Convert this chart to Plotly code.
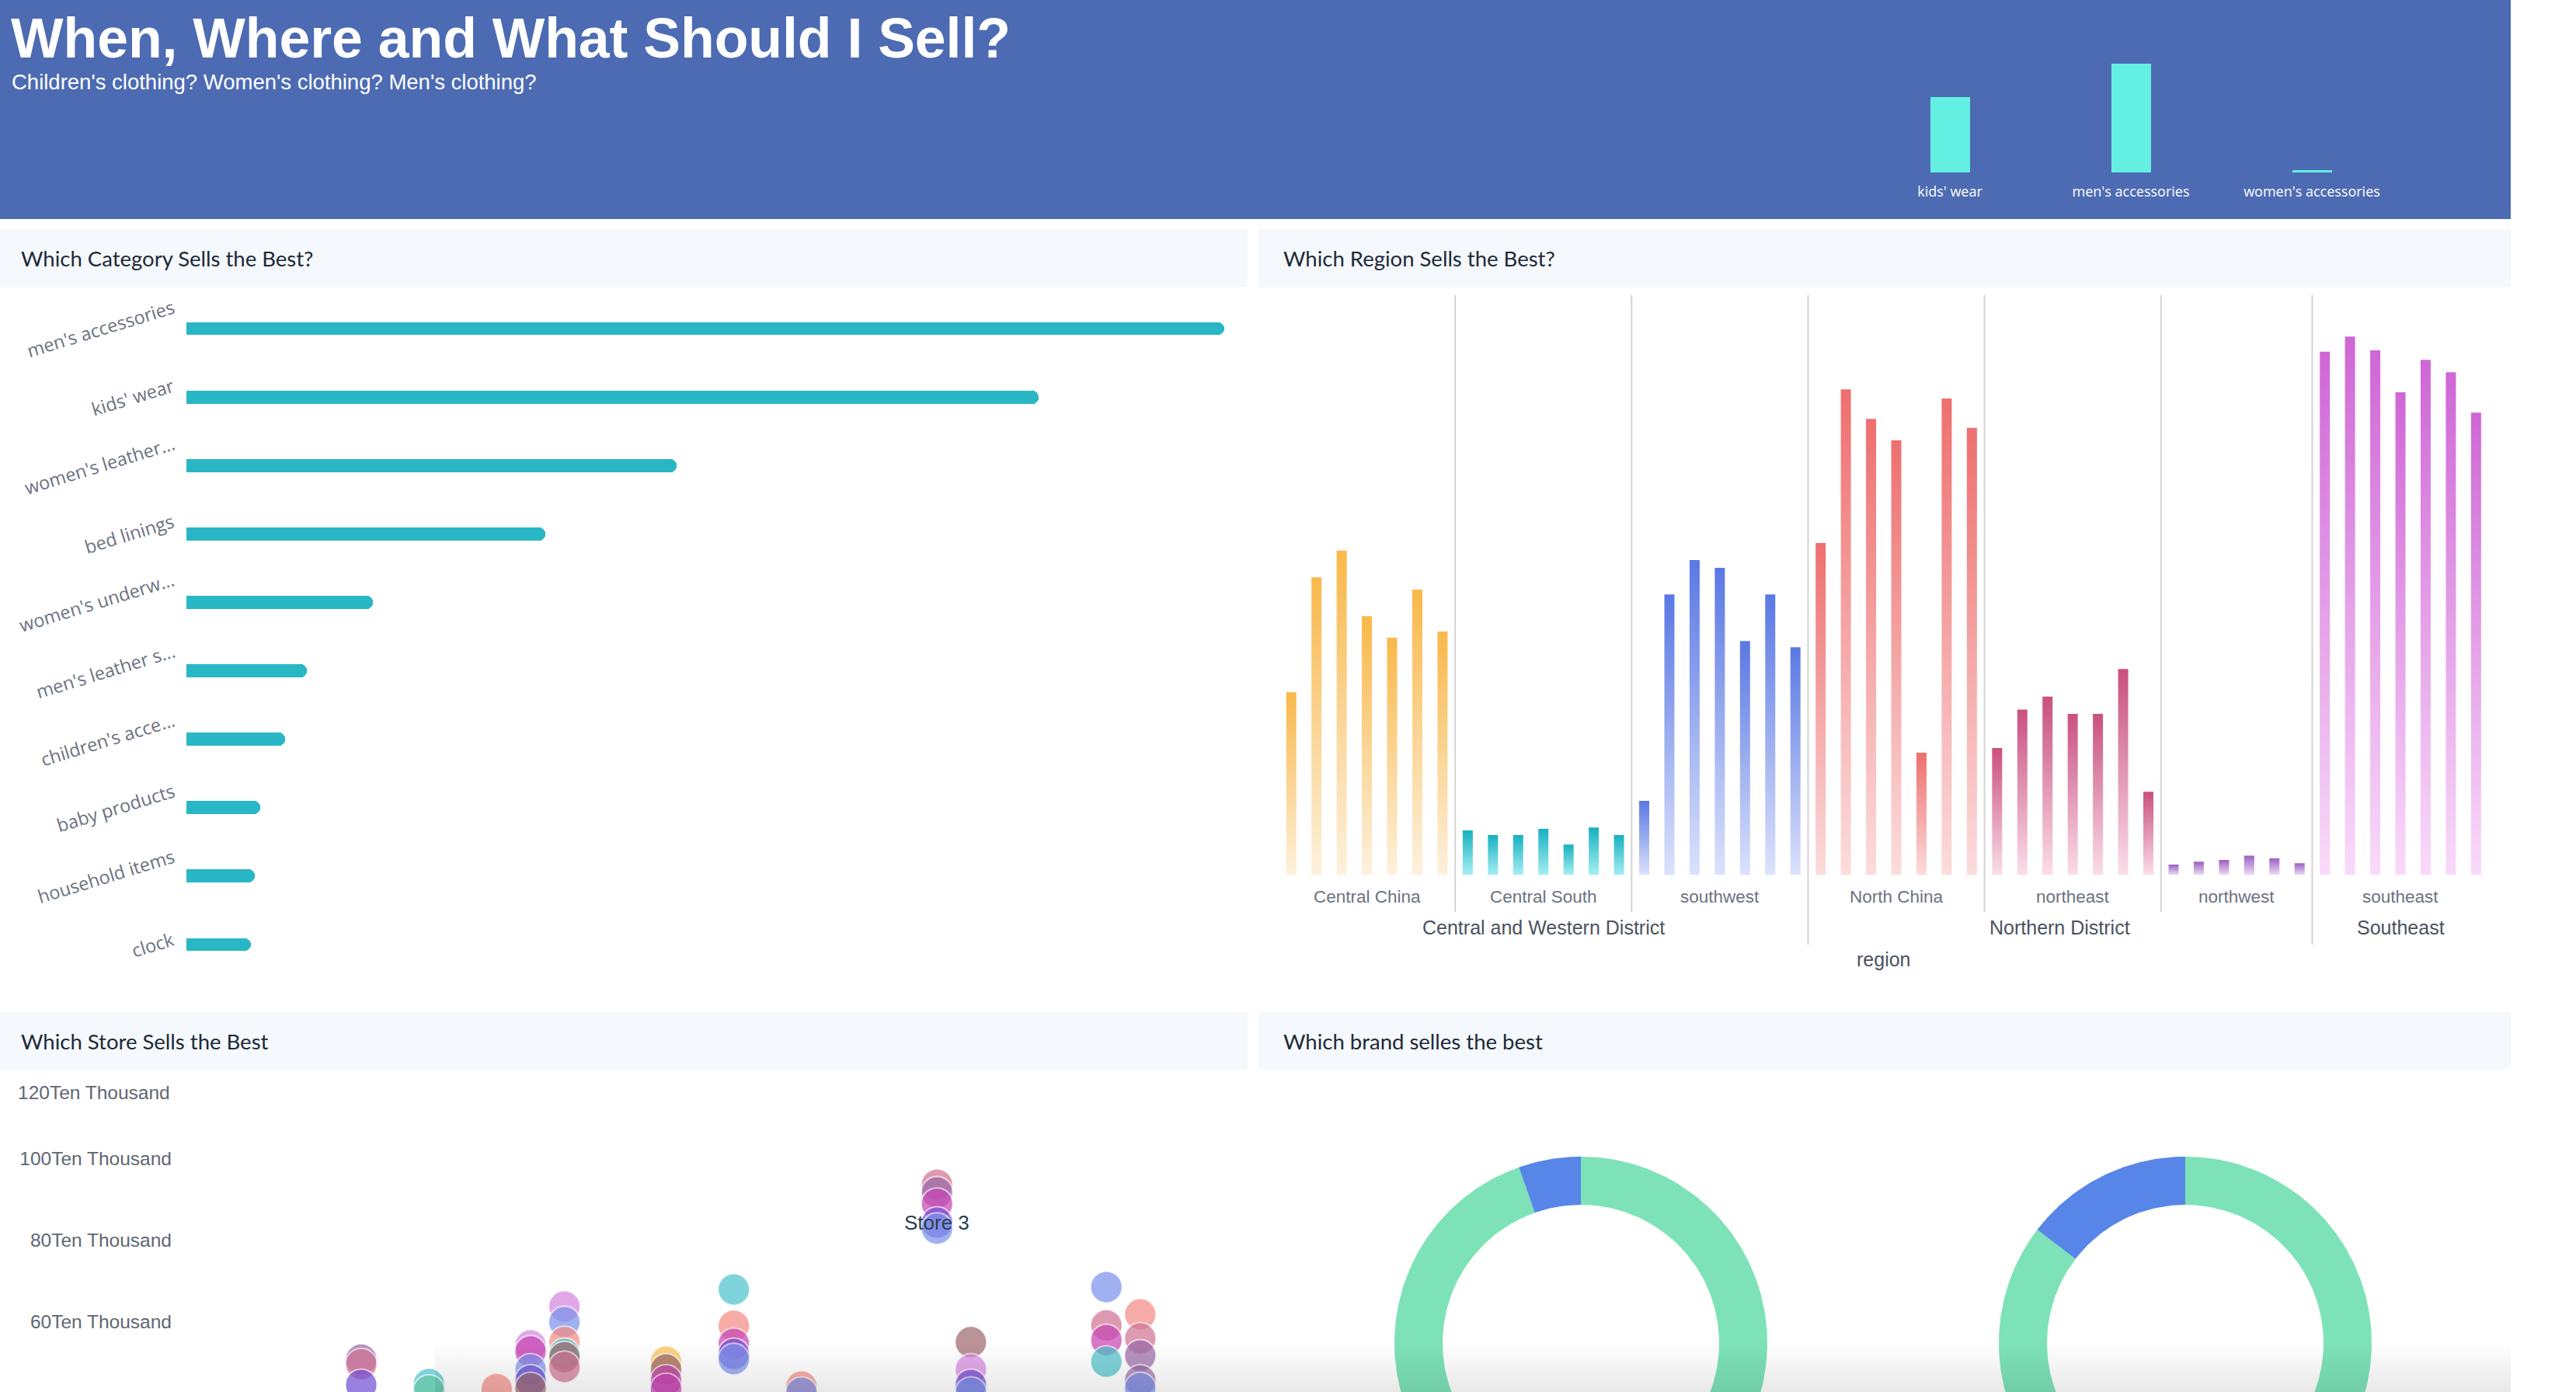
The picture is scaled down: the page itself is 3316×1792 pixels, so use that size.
import numpy as np
import plotly.graph_objects as go

W, H = 3316, 1792


def px(x):
    return x / W


def py(y):
    return 1 - y / H


# ---------------- data ----------------
title_text = "When, Where and What Should I Sell?"
subtitle_text = "Children's clothing? Women's clothing? Men's clothing?"

header_cats = ["kids' wear", "men's accessories", "women's accessories"]
header_vals = [69, 100, 2]

cat_labels = ["men's accessories", "kids' wear", "women's leather...", "bed linings",
              "women's underw...", "men's leather s...", "children's acce...",
              "baby products", "household items", "clock"]
cat_vals = [100, 82.1, 47.2, 34.6, 18.0, 11.6, 9.5, 7.1, 6.6, 6.2]

region_names = ["Central China", "Central South", "southwest", "North China",
                "northeast", "northwest", "southeast"]
region_district = ["Central and Western District", "Central and Western District",
                   "Central and Western District", "Northern District",
                   "Northern District", "Northern District", "Southeast"]
district_names = ["Central and Western District", "Northern District", "Southeast"]
central_china = [38.4, 62.6, 68.2, 54.4, 49.9, 60.0, 51.2]
central_south = [9.4, 8.4, 8.4, 9.7, 6.4, 10.0, 8.4]
southwest = [15.6, 59.0, 66.2, 64.6, 49.2, 59.0, 47.9]
north_china = [69.8, 102.1, 95.9, 91.4, 25.7, 100.2, 94.0]
northeast = [26.7, 34.8, 37.5, 33.9, 33.9, 43.3, 17.5]
northwest = [2.2, 2.8, 3.2, 4.1, 3.5, 2.5]
southeast = [110.0, 113.2, 110.3, 101.5, 108.3, 105.7, 97.2]
region_vals = [central_china, central_south, southwest, north_china,
               northeast, northwest, southeast]
region_axis_title = "region"

# store bubbles: slot on the store axis, sales (ten thousand), colour key
store_slot = [0, 0, 0, 2, 2, 4,
              5, 5, 5, 5, 5,
              6, 6, 6, 6, 6, 6,
              9, 9, 9, 9,
              11, 11, 11, 11, 11,
              13, 13,
              17, 17, 17, 17, 17,
              18, 18, 18, 18,
              22, 22, 22, 22,
              23, 23, 23, 23, 23]
store_sales = [50.6, 49.5, 44.4, 44.6, 43.0, 43.4,
               54.1, 52.6, 48.2, 45.5, 43.6,
               63.6, 59.8, 54.9, 52.0, 51.2, 48.8,
               50.1, 48.2, 45.5, 43.4,
               67.8, 58.9, 54.5, 52.0, 50.7,
               44.0, 42.5,
               93.5, 91.6, 88.8, 84.2, 82.7,
               54.9, 48.2, 44.4, 42.5,
               68.4, 59.0, 55.4, 50.1,
               61.7, 55.8, 51.6, 45.5, 43.6]
store_color = ["plum", "rose", "violet", "teal", "mint", "salmon",
               "orchid", "magenta", "blue", "violet", "brown",
               "orchid", "blue", "salmon", "teal", "brown", "rose",
               "yellow", "brown", "magenta", "magenta",
               "teal", "salmon", "magenta", "violet", "blue",
               "salmon", "blue",
               "rose", "plum", "magenta", "violet", "blue",
               "brown", "orchid", "violet", "blue",
               "blue", "rose", "magenta", "teal",
               "salmon", "rose", "plum", "plum", "blue"]
store_ticks = [60, 80, 100]
store_top_tick = 120
store_label = "Store 3"
store_label_slot = 17
store_label_value = 84.2

donut_main = [94.6, 85.4]
donut_other = [5.4, 14.6]

panel_titles = ["Which Category Sells the Best?", "Which Region Sells the Best?",
                "Which Store Sells the Best", "Which brand selles the best"]

# ---------------- styles ----------------
HEADER_BLUE = "#4d6bb3"
BAND = "#f5f8fc"
region_colors = [("#f9b84a", "#fdf1dd"), ("#17b1c0", "#a6eef3"), ("#5a78e3", "#dbe2fc"),
                 ("#ee6f6f", "#fcdcdc"), ("#c9507f", "#fbdde8"), ("#9b60c2", "#ecdcf5"),
                 ("#cf66d6", "#f9dafa")]
bubble_pal = {"teal": "#4fc3cc", "salmon": "#f48b86", "rose": "#d07494", "orchid": "#d687e0",
              "blue": "#7d93ec", "violet": "#7352d4", "magenta": "#c845b4", "yellow": "#f7c150",
              "brown": "#a06a6e", "plum": "#9a6aa8", "mint": "#66c9a4"}
donut_colors = ["#7de2b8", "#5886e8"]

fig = go.Figure()
shapes = []
annotations = []

# header band
shapes.append(dict(type="rect", xref="paper", yref="paper", x0=0, x1=px(3232),
                   y0=py(282), y1=1, fillcolor=HEADER_BLUE, line_width=0, layer="below"))
# panel title bands
for (x0, x1, y0, y1) in [(0, 1606, 295, 370), (1620, 3232, 295, 370),
                         (0, 1606, 1303, 1377), (1620, 3232, 1303, 1377)]:
    shapes.append(dict(type="rect", xref="paper", yref="paper", x0=px(x0), x1=px(x1),
                       y0=py(y1), y1=py(y0), fillcolor=BAND, line_width=0, layer="below"))

annotations.append(dict(text=f"<b>{title_text}</b>", x=px(12), y=py(49), xref="paper", yref="paper",
                        xanchor="left", yanchor="middle", showarrow=False,
                        font=dict(family="Liberation Sans", size=71.5, color="white")))
annotations.append(dict(text=subtitle_text, x=px(13), y=py(106), xref="paper", yref="paper",
                        xanchor="left", yanchor="middle", showarrow=False,
                        font=dict(family="Liberation Sans", size=27.5, color="white")))
for t, (x, y) in zip(panel_titles, [(25, 333), (1650, 333), (25, 1340), (1650, 1340)]):
    annotations.append(dict(text=t, x=px(x), y=py(y), xref="paper", yref="paper",
                            xanchor="left", yanchor="middle", showarrow=False,
                            font=dict(family="Lato", size=27.5, color="#1d2a3a")))

# ---------- header mini bars (x1/y1) ----------
fig.add_trace(go.Bar(x=header_cats, y=header_vals, width=0.215, marker_color="#64efe3",
                     marker_line_width=0, xaxis="x", yaxis="y", showlegend=False))

# ---------- category bars (x2/y2) ----------
fig.add_trace(go.Bar(x=cat_vals, y=cat_labels, orientation="h", width=0.19,
                     marker=dict(color="#29b7c6", cornerradius=8, line_width=0),
                     xaxis="x2", yaxis="y2", showlegend=False))
# rotated category labels, centred on their bars
for lab in cat_labels:
    annotations.append(dict(text=lab, x=px(231), y=lab, xref="paper", yref="y2",
                            xanchor="right", yanchor="middle", showarrow=False, textangle=-17,
                            font=dict(family="Open Sans", size=23.5, color="#6b7280")))

# ---------- region bars (x3/y3) ----------
idx = 0
group_bounds = []
for g, vals in enumerate(region_vals):
    top, bot = region_colors[g]
    start = idx
    for v in vals:
        fig.add_trace(go.Scatter(
            x=[idx - 0.2, idx - 0.2, idx + 0.2, idx + 0.2, idx - 0.2],
            y=[0, v, v, 0, 0], mode="lines", fill="toself", line=dict(width=0),
            fillgradient=dict(type="vertical", start=0, stop=v,
                              colorscale=[[0, bot], [1, top]]),
            xaxis="x3", yaxis="y3", showlegend=False, hoverinfo="skip"))
        idx += 1
    group_bounds.append((start - 0.5, idx - 0.5))
n_bars = idx

# separators & labels
for g, (a, b) in enumerate(group_bounds):
    annotations.append(dict(text=region_names[g], x=(a + b) / 2, y=py(1154), xref="x3", yref="paper",
                            showarrow=False, xanchor="center", yanchor="middle",
                            font=dict(family="Liberation Sans", size=22.5, color="#6b7280")))
    if g < len(group_bounds) - 1:
        district_change = region_district[g] != region_district[g + 1]
        shapes.append(dict(type="line", xref="x3", yref="paper", x0=b, x1=b,
                           y0=py(1216 if district_change else 1174), y1=py(380),
                           line=dict(color="#d3d3d3", width=2), layer="below"))
for d in district_names:
    gs = [group_bounds[i] for i in range(len(region_names)) if region_district[i] == d]
    a, b = gs[0][0], gs[-1][1]
    annotations.append(dict(text=d, x=(a + b) / 2, y=py(1194), xref="x3", yref="paper",
                            showarrow=False, xanchor="center", yanchor="middle",
                            font=dict(family="Liberation Sans", size=25, color="#4b5260")))
annotations.append(dict(text=region_axis_title, x=(n_bars - 1) / 2, y=py(1235), xref="x3", yref="paper",
                        showarrow=False, xanchor="center", yanchor="middle",
                        font=dict(family="Liberation Sans", size=25, color="#4b5260")))

# ---------- store bubbles (x4/y4) ----------
fig.add_trace(go.Scatter(
    x=store_slot, y=store_sales, mode="markers",
    marker=dict(size=41, color=[bubble_pal[c] for c in store_color], opacity=0.72,
                line=dict(color="rgba(255,255,255,0.85)", width=2)),
    xaxis="x4", yaxis="y4", showlegend=False))
annotations.append(dict(text=store_label, x=store_label_slot, y=store_label_value, xref="x4", yref="y4",
                        showarrow=False, xanchor="center", yanchor="middle",
                        font=dict(family="Liberation Sans", size=26, color="#2c3e50")))
annotations.append(dict(text=f"{store_top_tick}Ten Thousand", x=px(221), y=py(1406), xref="paper",
                        yref="paper", showarrow=False, xanchor="right", yanchor="middle",
                        font=dict(family="Liberation Sans", size=24.5, color="#5f6672")))

# ---------- brand donuts (x5/y5, pixel units) ----------
donut_cx = [2035, 2813]
donut_cy = -1729
R_out, R_in = 240, 178
for k in range(len(donut_main)):
    shares = [donut_main[k], donut_other[k]]
    total = sum(shares)
    acc = 0.0
    for s, col in zip(shares, donut_colors):
        a0 = acc / total * 2 * np.pi
        a1 = (acc + s) / total * 2 * np.pi
        t = np.linspace(a0, a1, max(8, int(s * 4)))
        xs = np.concatenate([donut_cx[k] + R_out * np.sin(t), donut_cx[k] + R_in * np.sin(t[::-1])])
        ys = np.concatenate([donut_cy + R_out * np.cos(t), donut_cy + R_in * np.cos(t[::-1])])
        xs = np.append(xs, xs[0])
        ys = np.append(ys, ys[0])
        fig.add_trace(go.Scatter(x=xs, y=ys, mode="lines", fill="toself", fillcolor=col,
                                 line=dict(width=0, color=col), xaxis="x5", yaxis="y5",
                                 showlegend=False, hoverinfo="skip"))
        acc += s

# ---------- bottom fade overlay (x6/y6) ----------
fig.add_trace(go.Scatter(x=[0, 1, 1, 0, 0], y=[0, 0, 1, 1, 0], mode="lines", fill="toself",
                         line=dict(width=0),
                         fillgradient=dict(type="vertical", start=0, stop=1,
                                           colorscale=[[0, "rgba(0,0,0,0.09)"], [1, "rgba(0,0,0,0)"]]),
                         xaxis="x6", yaxis="y6", showlegend=False, hoverinfo="skip"))

hidden = dict(visible=False, showgrid=False, zeroline=False, fixedrange=True)

store_x0 = (228 - 465) / 43.6
store_x1 = (1600 - 465) / 43.6

fig.update_layout(
    width=W, height=H, autosize=False,
    margin=dict(l=0, r=0, t=0, b=0, pad=0),
    paper_bgcolor="white", plot_bgcolor="rgba(0,0,0,0)",
    shapes=shapes, annotations=annotations, bargap=0,
    xaxis=dict(domain=[px(2393.5), px(3092.5)], range=[-0.5, 2.5], type="category",
               showgrid=False, zeroline=False, showline=False, ticks="",
               tickfont=dict(family="Open Sans", size=18, color="white"),
               ticklabelstandoff=12, anchor="y"),
    yaxis=dict(domain=[py(222), py(82)], range=[0, 100], **hidden, anchor="x"),
    xaxis2=dict(domain=[px(240), px(1576)], range=[0, 100], **hidden, anchor="y2"),
    yaxis2=dict(domain=[py(1260), py(379)], range=[9.5, -0.5], type="category",
                categoryorder="array", categoryarray=cat_labels,
                showgrid=False, zeroline=False, showline=False, ticks="",
                showticklabels=False, anchor="x2"),
    xaxis3=dict(domain=[px(1646), px(3203.6)], range=[-0.5, n_bars - 0.5], **hidden, anchor="y3"),
    yaxis3=dict(domain=[py(1126.5), py(380)], range=[0, 121.9], **hidden, anchor="x3"),
    xaxis4=dict(domain=[px(228), px(1600)], range=[store_x0, store_x1], **hidden, anchor="y4"),
    yaxis4=dict(domain=[0, py(1380)], range=[60 - (1792 - 1701) / 5.25, 60 + (1701 - 1380) / 5.25],
                tickvals=store_ticks, ticktext=[f"{v}Ten Thousand" for v in store_ticks],
                showgrid=False, zeroline=False, showline=False, ticks="",
                ticklabelstandoff=6,
                tickfont=dict(family="Liberation Sans", size=24.5, color="#5f6672"), anchor="x4"),
    xaxis5=dict(domain=[px(1618), px(3232)], range=[1618, 3232], **hidden, anchor="y5"),
    yaxis5=dict(domain=[0, py(1377)], range=[-1792, -1377], **hidden, anchor="x5"),
    xaxis6=dict(domain=[px(560), px(3232)], range=[0, 1], **hidden, anchor="y6"),
    yaxis6=dict(domain=[0, 65 / H], range=[0, 1], **hidden, anchor="x6"),
)

fig.write_html("out.html")
